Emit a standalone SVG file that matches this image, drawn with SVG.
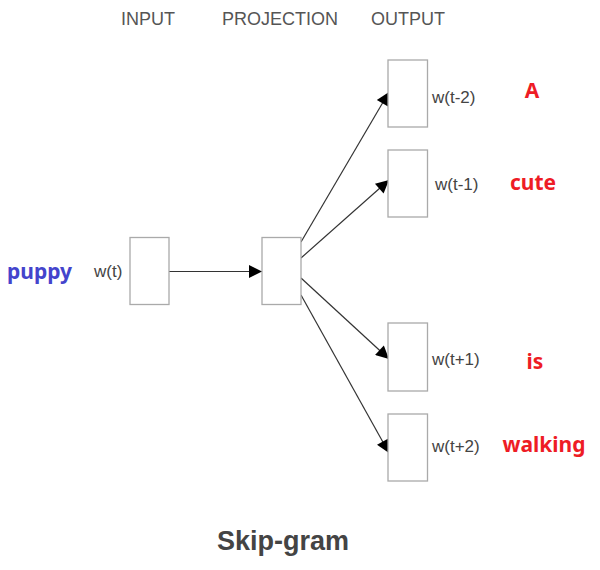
<svg xmlns="http://www.w3.org/2000/svg" width="600" height="570" viewBox="0 0 600 570">
<style>
.box{fill:#fff;stroke:#aaa;stroke-width:1.3}
.hdr{font-family:"Liberation Sans",Arial,sans-serif;font-size:18px;fill:#555}
.lbl{font-family:"Liberation Sans",Arial,sans-serif;font-size:17px;fill:#444}
.red{font-family:"Noto Sans",sans-serif;font-weight:bold;font-size:21px;fill:#ee1c25}
.blue{font-family:"Noto Sans",sans-serif;font-weight:bold;font-size:21px;fill:#4444cc}
.edge{stroke:#333;stroke-width:1.2;fill:none;marker-end:url(#ah)}
</style>
<defs>
<marker id="ah" viewBox="0 0 10 10" refX="10" refY="5" markerWidth="19" markerHeight="13" markerUnits="userSpaceOnUse" orient="auto">
<path d="M0,0 L10,5 L0,10 z" fill="#000"/>
</marker>
</defs>
<rect width="600" height="570" fill="#fff"/>
<text class="hdr" x="148" y="25" text-anchor="middle">INPUT</text>
<text class="hdr" x="280" y="25" text-anchor="middle">PROJECTION</text>
<text class="hdr" x="408" y="25" text-anchor="middle">OUTPUT</text>
<g id="connectors">
<line class="edge" x1="168" y1="271.5" x2="262" y2="271.5"/>
<line class="edge" x1="301" y1="242" x2="389" y2="92"/>
<line class="edge" x1="301" y1="258" x2="389" y2="180"/>
<line class="edge" x1="301" y1="278" x2="389" y2="359"/>
<line class="edge" x1="301" y1="295" x2="389" y2="453"/>
</g>
<g id="input">
<rect class="box" x="130" y="237.5" width="39" height="67"/>
<text class="lbl" x="94" y="277">w(t)</text>
<text class="blue" x="7" y="279">puppy</text>
</g>
<g id="projection">
<rect class="box" x="262" y="237.5" width="39" height="67"/>
</g>
<g id="out1">
<rect class="box" x="388" y="60" width="39.5" height="67"/>
<text class="lbl" x="432" y="103">w(t-2)</text>
<text class="red" x="532" y="98" text-anchor="middle">A</text>
</g>
<g id="out2">
<rect class="box" x="388" y="150" width="39.5" height="67"/>
<text class="lbl" x="435" y="190">w(t-1)</text>
<text class="red" x="533" y="190" text-anchor="middle">cute</text>
</g>
<g id="out3">
<rect class="box" x="388" y="323" width="39.5" height="68"/>
<text class="lbl" x="432" y="365">w(t+1)</text>
<text class="red" x="535" y="369" text-anchor="middle">is</text>
</g>
<g id="out4">
<rect class="box" x="388" y="414" width="39.5" height="67"/>
<text class="lbl" x="432" y="452">w(t+2)</text>
<text class="red" x="544" y="452" text-anchor="middle">walking</text>
</g>
<text x="283" y="550" text-anchor="middle" font-family="Liberation Sans,Arial,sans-serif" font-weight="bold" font-size="27" fill="#444">Skip-gram</text>
</svg>
